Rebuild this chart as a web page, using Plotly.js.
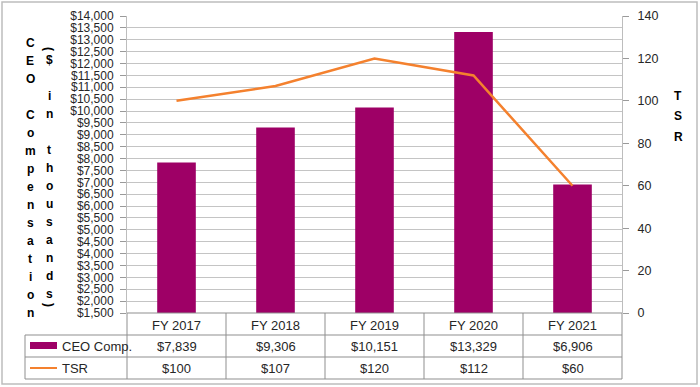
<!DOCTYPE html>
<html>
<head>
<meta charset="utf-8">
<script src="https://cdn.plot.ly/plotly-3.0.1.min.js"></script>
<style>
html,body{margin:0;padding:0;background:#fff;}
#chart{width:700px;height:387px;}
</style>
</head>
<body>
<div id="chart"></div>
<script>
// ---- data ----
const categories = ["FY 2017", "FY 2018", "FY 2019", "FY 2020", "FY 2021"];
const ceoComp = [7839, 9306, 10151, 13329, 6906];
const tsr = [100, 107, 120, 112, 60];
const seriesNames = ["CEO Comp.", "TSR"];
const leftTitle1 = "CEO Compensation";
const leftTitle2 = "($ in thousands)";
const rightTitle = "TSR";

// ---- layout helpers ----
const W = 700, H = 387;
const L = 127, R = 622, T = 16, B = 313;
const px = x => (x - L) / (R - L);
const py = y => (B - y) / (B - T);

const barColor = "#9E0066";
const lineColor = "#F4812E";
const textColor = "#262626";
const FONT = "Liberation Sans, Arial, sans-serif";
const tableLine = "#8F8F8F";

const fmt = v => "$" + v.toLocaleString("en-US");

const shapes = [];
const annotations = [];

// outer border
shapes.push({type: "rect", xref: "paper", yref: "paper",
  x0: px(2), x1: px(697), y0: py(2), y1: py(384),
  line: {color: "#BDBDBD", width: 1.5}, fillcolor: "rgba(0,0,0,0)", layer: "below"});

// table grid
const rowY = [313, 335, 357, 379];
const n = categories.length;
shapes.push({type: "line", xref: "paper", yref: "paper", x0: px(L), x1: px(R), y0: py(rowY[0]), y1: py(rowY[0]), line: {color: tableLine, width: 1}});
for (let r = 1; r < rowY.length; r++) {
  shapes.push({type: "line", xref: "paper", yref: "paper", x0: px(25), x1: px(R), y0: py(rowY[r]), y1: py(rowY[r]), line: {color: tableLine, width: 1}});
}
for (let i = 0; i <= n; i++) {
  const xx = i / n;
  shapes.push({type: "line", xref: "paper", yref: "paper", x0: xx, x1: xx, y0: py(rowY[0]), y1: py(rowY[3]), line: {color: tableLine, width: 1}});
}
shapes.push({type: "line", xref: "paper", yref: "paper", x0: px(25), x1: px(25), y0: py(rowY[1]), y1: py(rowY[3]), line: {color: tableLine, width: 1}});

// legend keys in table
shapes.push({type: "rect", xref: "paper", yref: "paper", x0: px(30), x1: px(57), y0: py(342), y1: py(349),
  fillcolor: barColor, line: {width: 0}});
shapes.push({type: "line", xref: "paper", yref: "paper", x0: px(30), x1: px(57), y0: py(368), y1: py(368),
  line: {color: lineColor, width: 2}});

annotations.push({xref: "paper", yref: "paper", x: px(60), y: py(346), xanchor: "left", yanchor: "middle",
  text: seriesNames[0], showarrow: false, font: {family: FONT, size: 13, color: textColor}});
annotations.push({xref: "paper", yref: "paper", x: px(60), y: py(368), xanchor: "left", yanchor: "middle",
  text: seriesNames[1], showarrow: false, font: {family: FONT, size: 13, color: textColor}});

// table values
for (let i = 0; i < n; i++) {
  annotations.push({xref: "x", yref: "paper", x: categories[i], y: py(346), xanchor: "center", yanchor: "middle",
    text: fmt(ceoComp[i]), showarrow: false, font: {family: FONT, size: 13, color: textColor}});
  annotations.push({xref: "x", yref: "paper", x: categories[i], y: py(368), xanchor: "center", yanchor: "middle",
    text: fmt(tsr[i]), showarrow: false, font: {family: FONT, size: 13, color: textColor}});
}

// stacked vertical titles
function stacked(str, xPix, yStart, step, smallAdv) {
  let y = yStart;
  const chars = str.split("");
  chars.forEach((c, k) => {
    let adv = step;
    let ang = 0;
    if (c === "(" || c === ")") { ang = 90; }
    if (k > 0) {
      const prev = chars[k - 1];
      if (prev === "(" || c === ")") adv = smallAdv;
    }
    if (k > 0) y += adv;
    if (c !== " ") {
      annotations.push({xref: "paper", yref: "paper", x: px(xPix), y: py(y), xanchor: "center", yanchor: "middle",
        text: c, textangle: ang, showarrow: false,
        font: {family: FONT, size: 12, color: "#000", weight: "bold"}});
    }
  });
}
stacked(leftTitle1, 30, 43, 18, 18);
stacked(leftTitle2, 49, 49, 18, 11);
stacked(rightTitle, 678, 96, 20.5, 20.5);

const traces = [
  {type: "bar", name: seriesNames[0], x: categories, y: ceoComp, marker: {color: barColor},
   width: 0.39, yaxis: "y", hoverinfo: "skip"},
  {type: "scatter", mode: "lines", name: seriesNames[1], x: categories, y: tsr,
   line: {color: lineColor, width: 2.5}, yaxis: "y2", hoverinfo: "skip"}
];

const layout = {
  width: W, height: H,
  margin: {l: L, r: W - R, t: T, b: H - B, pad: 0},
  paper_bgcolor: "#fff", plot_bgcolor: "#fff",
  showlegend: false,
  font: {family: FONT, size: 13, color: textColor},
  xaxis: {type: "category", range: [-0.5, n - 0.5], showgrid: false, zeroline: false,
    showline: false, ticks: "", tickfont: {family: FONT, size: 13, color: textColor},
    ticklabelstandoff: 3, fixedrange: true},
  yaxis: {range: [1500, 14000], dtick: 500, tick0: 1500, tickformat: "$,.0f",
    showgrid: true, gridcolor: "#C4C4C4", gridwidth: 1, zeroline: false,
    showline: true, linecolor: "#BDBDBD", ticks: "outside", ticklen: 6, tickcolor: "#9A9A9A",
    tickfont: {family: FONT, size: 12, color: textColor}, ticklabelstandoff: 4, fixedrange: true},
  yaxis2: {overlaying: "y", side: "right", range: [0, 140], dtick: 20, showgrid: false, zeroline: false,
    showline: true, linecolor: "#BDBDBD", ticks: "outside", ticklen: 6, tickcolor: "#9A9A9A",
    tickfont: {family: FONT, size: 12.5, color: textColor}, ticklabelstandoff: 6, fixedrange: true},
  shapes: shapes,
  annotations: annotations
};

Plotly.newPlot("chart", traces, layout, {displayModeBar: false, staticPlot: true});
</script>
</body>
</html>
